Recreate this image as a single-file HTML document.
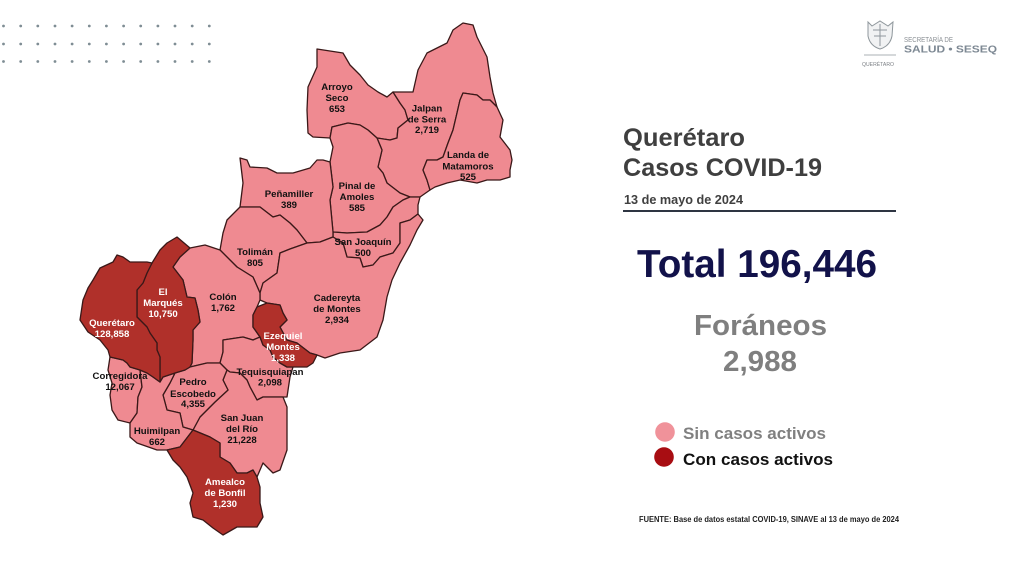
<!DOCTYPE html>
<html><head><meta charset="utf-8"><style>
html,body{margin:0;padding:0;background:#fff;}
svg{display:block;}
text{font-family:"Liberation Sans",Arial,sans-serif;}
.m{font-size:9.6px;font-weight:bold;text-anchor:middle;fill:#111;}
.w{font-size:9.6px;font-weight:bold;text-anchor:middle;fill:#fff;}
</style></head><body>
<svg width="1024" height="576" viewBox="0 0 1024 576" xmlns="http://www.w3.org/2000/svg">
<rect width="1024" height="576" fill="#fff"/>
<g fill="#7f8d94">
<g id="row">
<circle cx="3.5" cy="26" r="1.4"/><circle cx="20.7" cy="26" r="1.4"/><circle cx="37.8" cy="26" r="1.4"/><circle cx="55" cy="26" r="1.4"/><circle cx="72.1" cy="26" r="1.4"/><circle cx="89.3" cy="26" r="1.4"/><circle cx="106.4" cy="26" r="1.4"/><circle cx="123.6" cy="26" r="1.4"/><circle cx="140.7" cy="26" r="1.4"/><circle cx="157.9" cy="26" r="1.4"/><circle cx="175" cy="26" r="1.4"/><circle cx="192.2" cy="26" r="1.4"/><circle cx="209.3" cy="26" r="1.4"/>
</g>
<use href="#row" y="18"/>
<use href="#row" y="35.5"/>
</g>

<g stroke="#3a1818" stroke-width="1.3" stroke-linejoin="round">
<g fill="#ef8a91">
<polygon points="317,49 343,53 350,65 360,75 368,85 378,92 387,97 393,92 400,103 405,110 408,120 398,128 397,138 390,140 377,138 368,130 360,125 348,123 332,127 330,138 313,137 308,133 307,110 308,87 317,67"/>
<polygon points="393,92 413,92 418,70 427,53 447,43 453,30 463,23 473,25 477,37 487,57 490,77 493,93 497,107 490,100 483,100 477,95 463,93 460,100 457,113 453,130 448,143 443,157 437,160 427,160 423,170 427,180 430,190 420,197 410,197 400,193 387,183 383,173 378,167 382,150 377,138 390,140 397,138 398,128 408,120 405,110 400,103"/>
<polygon points="497,107 503,120 500,137 510,150 512,160 510,170 510,177 500,180 487,180 477,183 460,180 447,183 435,187 430,190 427,180 423,170 427,160 437,160 443,157 448,143 453,130 457,113 460,100 463,93 477,95 483,100 490,100"/>
<polygon points="332,127 348,123 360,125 368,130 377,138 382,150 378,167 383,173 387,183 400,193 410,197 403,200 393,207 387,217 380,225 367,232 347,233 333,232 330,200 333,187 330,162 333,147 330,138"/>
<polygon points="333,232 347,233 367,232 380,225 387,217 393,207 403,200 410,197 420,197 418,205 418,214 410,220 400,223 400,243 393,253 380,257 373,265 363,267 360,258 347,257 343,243 333,237"/>
<polygon points="240,158 247,160 250,167 267,168 277,173 293,173 310,168 317,160 323,160 330,162 333,187 330,200 333,232 333,237 320,242 307,243 297,230 290,223 280,215 273,217 260,207 240,207 243,183"/>
<polygon points="240,207 260,207 273,217 280,215 290,223 297,230 307,243 290,249 280,253 277,273 263,283 260,293 253,277 237,267 220,250 223,233 227,220"/>
<polygon points="307,243 320,242 333,237 343,243 347,257 360,258 363,267 373,265 380,257 393,253 400,243 400,223 410,220 418,214 423,220 417,230 410,245 400,263 392,280 387,297 383,320 377,337 360,350 340,353 325,358 317,355 310,353 297,343 287,340 280,327 287,320 283,313 280,305 267,303 260,300 260,293 263,283 277,273 280,253 290,249"/>
<polygon points="190,248 205,245 220,250 237,267 253,277 260,293 260,300 257,307 253,315 253,327 260,337 253,340 243,337 223,340 223,352 220,363 207,363 190,367 192,363 193,340 193,330 200,322 198,310 195,298 187,297 183,280 173,267 180,257"/>
<polygon points="223,340 243,337 253,340 260,337 263,345 270,350 273,357 280,363 287,367 293,367 290,377 287,397 283,397 263,397 257,400 250,387 247,380 240,373 230,372 227,370 220,363 223,352"/>
<polygon points="227,370 230,372 240,373 247,380 250,387 257,400 263,397 283,397 287,407 287,427 287,450 280,470 273,473 263,463 257,477 253,470 247,473 237,473 230,463 220,457 220,443 210,437 193,430 200,417 215,402 228,390 223,380"/>
<polygon points="190,367 207,363 220,363 227,370 223,380 228,390 215,402 200,417 193,430 183,427 180,413 167,410 163,395 170,383 175,373 185,370"/>
<polygon points="110,357 123,360 127,363 130,367 140,370 142,387 138,397 137,413 130,423 118,420 112,410 110,395 112,383 108,370"/>
<polygon points="140,370 147,373 153,377 160,382 163,377 175,373 170,383 163,395 167,410 180,413 183,427 193,430 180,447 167,450 157,450 137,443 130,437 130,423 137,413 138,397 142,387"/>
</g>
<g fill="#b0302a">
<polygon points="257,307 267,303 280,305 283,313 287,320 280,327 287,340 297,343 310,353 317,355 313,363 307,367 293,367 287,367 280,363 273,357 270,350 263,345 260,337 253,327 253,315"/>
<polygon points="152,263 160,250 167,243 177,237 190,248 180,257 173,267 183,280 187,297 195,298 198,310 200,322 193,330 193,340 192,363 190,367 185,370 175,373 163,377 160,382 160,357 157,350 157,343 150,333 147,327 137,317 137,290 143,283 147,273"/>
<polygon points="113,262 117,255 123,257 130,262 147,262 152,263 147,273 143,283 137,290 137,317 147,327 150,333 157,343 157,350 160,357 160,382 153,377 147,373 140,370 130,367 127,363 123,360 110,357 108,350 100,340 88,332 80,320 83,300 88,288 93,280 100,268"/>
<polygon points="167,450 180,447 193,430 210,437 220,443 220,457 230,463 237,473 247,473 253,470 257,477 260,487 260,503 263,517 257,527 237,527 223,535 213,528 203,520 193,517 190,503 193,493 187,477 180,467 173,460"/>
</g>
</g>

<text class="m" x="337" y="90">Arroyo</text><text class="m" x="337" y="101">Seco</text><text class="m" x="337" y="112">653</text>
<text class="m" x="427" y="111.5">Jalpan</text><text class="m" x="427" y="122.5">de Serra</text><text class="m" x="427" y="133">2,719</text>
<text class="m" x="468" y="158">Landa de</text><text class="m" x="468" y="169.5">Matamoros</text><text class="m" x="468" y="180">525</text>
<text class="m" x="289" y="197">Peñamiller</text><text class="m" x="289" y="208">389</text>
<text class="m" x="357" y="189">Pinal de</text><text class="m" x="357" y="200">Amoles</text><text class="m" x="357" y="211">585</text>
<text class="m" x="363" y="245">San Joaquín</text><text class="m" x="363" y="256">500</text>
<text class="m" x="255" y="255">Tolimán</text><text class="m" x="255" y="266">805</text>
<text class="m" x="223" y="300">Colón</text><text class="m" x="223" y="311">1,762</text>
<text class="m" x="337" y="301">Cadereyta</text><text class="m" x="337" y="312">de Montes</text><text class="m" x="337" y="323">2,934</text>
<text class="w" x="163" y="295">El</text><text class="w" x="163" y="306">Marqués</text><text class="w" x="163" y="317">10,750</text>
<text class="w" x="112" y="326">Querétaro</text><text class="w" x="112" y="337">128,858</text>
<text class="w" x="283" y="339">Ezequiel</text><text class="w" x="283" y="350">Montes</text><text class="w" x="283" y="361">1,338</text>
<text class="m" x="120" y="379">Corregidora</text><text class="m" x="120" y="390">12,067</text>
<text class="m" x="270" y="375">Tequisquiapan</text><text class="m" x="270" y="385.5">2,098</text>
<text class="m" x="193" y="385">Pedro</text><text class="m" x="193" y="397">Escobedo</text><text class="m" x="193" y="407">4,355</text>
<text class="m" x="242" y="421">San Juan</text><text class="m" x="242" y="432">del Río</text><text class="m" x="242" y="443">21,228</text>
<text class="m" x="157" y="434">Huimilpan</text><text class="m" x="157" y="445">662</text>
<text class="w" x="225" y="485">Amealco</text><text class="w" x="225" y="496">de Bonfil</text><text class="w" x="225" y="507">1,230</text>

<!-- logo -->
<g stroke="#8f979c" stroke-width="1" fill="none">
<path d="M868,22 L872,26 L880,21 L888,26 L893,22 L892,36 Q890,46 880,49 Q870,46 868,36 Z" fill="#f1f2f3"/>
<path d="M873,30 L887,30 M874,36 L886,36 M880,24 L880,46"/>
<path d="M864,55 L896,55" stroke-width="0.7"/>
</g>
<text x="904" y="42" font-size="7.5" fill="#8a8f94" textLength="49" lengthAdjust="spacingAndGlyphs">SECRETARÍA DE</text>
<text x="904" y="52.5" font-size="10.5" font-weight="bold" fill="#7d8893" textLength="93" lengthAdjust="spacingAndGlyphs">SALUD • SESEQ</text>
<text x="862" y="66" font-size="5.5" fill="#7d8186" textLength="32" lengthAdjust="spacingAndGlyphs">QUERÉTARO</text>

<text x="623" y="146" font-size="25" font-weight="bold" fill="#3f3f3f" textLength="122" lengthAdjust="spacingAndGlyphs">Querétaro</text>
<text x="623" y="176" font-size="25" font-weight="bold" fill="#3f3f3f" textLength="199" lengthAdjust="spacingAndGlyphs">Casos COVID-19</text>
<text x="624" y="204" font-size="13" font-weight="bold" fill="#404040" textLength="119" lengthAdjust="spacingAndGlyphs">13 de mayo de 2024</text>
<line x1="623" y1="211" x2="896" y2="211" stroke="#2e3542" stroke-width="2"/>

<text x="637" y="277" font-size="39" font-weight="bold" fill="#12124a" textLength="240" lengthAdjust="spacingAndGlyphs">Total 196,446</text>
<text x="694" y="335" font-size="28.5" font-weight="bold" fill="#7f7f7f" textLength="133" lengthAdjust="spacingAndGlyphs">Foráneos</text>
<text x="723" y="371" font-size="28.5" font-weight="bold" fill="#7f7f7f" textLength="74" lengthAdjust="spacingAndGlyphs">2,988</text>

<circle cx="665" cy="432" r="9.8" fill="#f0929a"/>
<circle cx="664" cy="457" r="9.8" fill="#a80d12"/>
<text x="683" y="439" font-size="17" font-weight="bold" fill="#808080" textLength="143" lengthAdjust="spacingAndGlyphs">Sin casos activos</text>
<text x="683" y="465" font-size="17" font-weight="bold" fill="#111" textLength="150" lengthAdjust="spacingAndGlyphs">Con casos activos</text>

<text x="639" y="522" font-size="8" font-weight="bold" fill="#222" textLength="260" lengthAdjust="spacingAndGlyphs">FUENTE: Base de datos estatal  COVID-19,  SINAVE  al 13 de mayo de 2024</text>
</svg>
</body></html>
